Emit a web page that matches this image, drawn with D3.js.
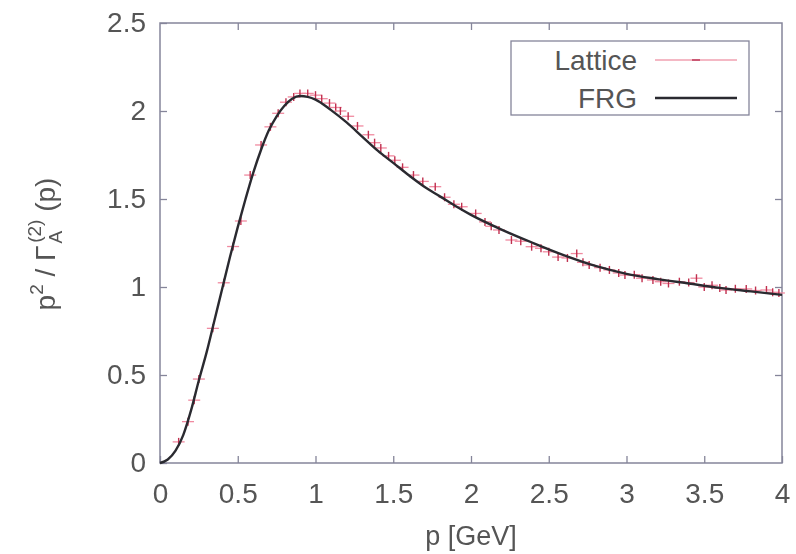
<!DOCTYPE html>
<html><head><meta charset="utf-8">
<script src="https://cdn.jsdelivr.net/npm/d3@7"></script>
<style>body{margin:0;background:#fff}svg{display:block;filter:blur(0.45px)}text{font-family:"Liberation Sans",Arial,sans-serif;fill:#555}</style>
</head><body><svg id="c" width="796" height="554"></svg>
<script>
const xTicks = [0,0.5,1,1.5,2,2.5,3,3.5,4];
const yTicks = [0,0.5,1,1.5,2,2.5];
const seriesNames = ["Lattice","FRG"];
const latticeP = [0.12,0.18,0.22,0.25,0.34,0.41,0.47,0.52,0.58,0.65,0.71,0.76,0.81,0.86,0.9,0.95,1.0,1.04,1.09,1.13,1.16,1.21,1.27,1.34,1.38,1.42,1.47,1.51,1.56,1.63,1.69,1.77,1.83,1.89,1.94,2.03,2.09,2.13,2.18,2.26,2.32,2.39,2.45,2.5,2.56,2.62,2.68,2.72,2.76,2.83,2.89,2.95,2.99,3.05,3.1,3.17,3.22,3.27,3.34,3.4,3.45,3.5,3.55,3.6,3.64,3.7,3.77,3.83,3.9,3.94,3.98];
const latticeV = [0.12,0.235,0.357,0.477,0.765,1.024,1.23,1.375,1.636,1.807,1.91,1.987,2.05,2.08,2.1,2.1,2.09,2.07,2.045,2.02,2.0,1.97,1.915,1.865,1.82,1.79,1.745,1.72,1.68,1.636,1.6,1.57,1.51,1.47,1.456,1.418,1.37,1.345,1.324,1.267,1.26,1.229,1.22,1.2,1.17,1.165,1.19,1.14,1.125,1.11,1.097,1.08,1.068,1.07,1.05,1.04,1.03,1.02,1.03,1.025,1.05,1.0,1.01,0.995,0.983,0.99,0.989,0.98,0.983,0.97,0.966];
const latticeErr = [0.01,0.01,0.01,0.012,0.012,0.015,0.015,0.015,0.018,0.018,0.018,0.02,0.02,0.02,0.02,0.02,0.02,0.02,0.02,0.02,0.02,0.018,0.018,0.018,0.018,0.018,0.016,0.016,0.016,0.016,0.015,0.015,0.015,0.015,0.014,0.014,0.014,0.014,0.013,0.013,0.013,0.013,0.012,0.012,0.012,0.012,0.012,0.012,0.012,0.011,0.011,0.011,0.011,0.011,0.011,0.011,0.01,0.01,0.01,0.01,0.01,0.01,0.01,0.01,0.01,0.01,0.01,0.01,0.01,0.01,0.01];
const frgP = [0,0.05,0.1,0.15,0.2,0.25,0.3,0.35,0.4,0.45,0.5,0.55,0.6,0.65,0.7,0.75,0.8,0.85,0.9,0.95,1.0,1.1,1.2,1.3,1.4,1.5,1.6,1.7,1.8,1.9,2.0,2.2,2.4,2.6,2.8,3.0,3.2,3.4,3.6,3.8,4.0];
const frgV = [0,0.02,0.07,0.16,0.3,0.47,0.63,0.81,0.99,1.17,1.34,1.5,1.65,1.78,1.89,1.97,2.03,2.07,2.085,2.08,2.065,2.005,1.935,1.855,1.775,1.705,1.635,1.57,1.515,1.46,1.41,1.325,1.25,1.18,1.12,1.075,1.045,1.02,0.995,0.975,0.955];

const svg = d3.select("#c");
const L=160, R=782, T=23, B=463;
const x = d3.scaleLinear().domain([0,4]).range([L,R]);
const y = d3.scaleLinear().domain([0,2.5]).range([B,T]);
const frameCol = "#85859a";

svg.append("rect").attr("x",L).attr("y",T).attr("width",R-L).attr("height",B-T)
  .attr("fill","none").attr("stroke",frameCol).attr("stroke-width",1.5);

const ax = svg.append("g").attr("transform",`translate(0,${B})`)
  .call(d3.axisBottom(x).tickValues(xTicks).tickFormat(d3.format("")).tickSizeInner(-7).tickSizeOuter(0).tickPadding(20));
const ay = svg.append("g").attr("transform",`translate(${L},0)`)
  .call(d3.axisLeft(y).tickValues(yTicks).tickFormat(d3.format("")).tickSizeInner(-7).tickSizeOuter(0).tickPadding(14));
const axT = svg.append("g").attr("transform",`translate(0,${T})`)
  .call(d3.axisTop(x).tickValues(xTicks.slice(1,-1)).tickFormat("").tickSizeInner(-7).tickSizeOuter(0));
const ayR = svg.append("g").attr("transform",`translate(${R},0)`)
  .call(d3.axisRight(y).tickValues(yTicks.slice(1,-1)).tickFormat("").tickSizeInner(-7).tickSizeOuter(0));
[ax,ay,axT,ayR].forEach(g=>{g.select(".domain").remove();g.selectAll("line").attr("stroke",frameCol).attr("stroke-width",1.3);
  g.selectAll("text").style("font-size","28px").attr("fill","#555");});
ax.selectAll("text").attr("dy","0.71em");

svg.append("text").attr("x",(L+R)/2).attr("y",545).attr("text-anchor","middle").style("font-size","27px").text("p [GeV]");
const yl = svg.append("text").attr("transform","translate(55,244) rotate(-90)").attr("text-anchor","middle").style("font-size","28px");
yl.append("tspan").text("p");
yl.append("tspan").attr("dy","-12").style("font-size","19px").text("2");
yl.append("tspan").attr("dy","12").text(" / Γ");
yl.append("tspan").attr("dy","7").attr("dx","2").style("font-size","19px").text("A");
yl.append("tspan").attr("dy","-21").attr("dx","-12").style("font-size","19px").text("(2)");
yl.append("tspan").attr("dy","14").text(" (p)");

const lat = latticeP.map((p,i)=>({p,v:latticeV[i],e:latticeErr[i]}));
const lg = svg.append("g");
lat.forEach(d=>{
  const cx=x(d.p), cy=y(d.v);
  const h=Math.max(4, Math.abs(y(d.v-d.e)-cy));
  lg.append("line").attr("x1",cx-6).attr("x2",cx+6).attr("y1",cy).attr("y2",cy).attr("stroke","#f08aa0").attr("stroke-width",1.3);
  lg.append("line").attr("x1",cx).attr("x2",cx).attr("y1",cy-h).attr("y2",cy+h).attr("stroke","#c0304f").attr("stroke-width",1.4);
});

const frg = frgP.map((p,i)=>({p,v:frgV[i]}));
svg.append("path").datum(frg).attr("fill","none").attr("stroke","#2a2a30").attr("stroke-width",2.4)
  .attr("d",d3.line().x(d=>x(d.p)).y(d=>y(d.v)).curve(d3.curveMonotoneX));

const lgd = svg.append("g");
lgd.append("rect").attr("x",511).attr("y",41).attr("width",238).attr("height",74).attr("fill","#fff").attr("stroke",frameCol).attr("stroke-width",1.3);
const rows=[{n:seriesNames[0],y:60},{n:seriesNames[1],y:98}];
rows.forEach((r,i)=>{
  lgd.append("text").attr("x",637).attr("y",r.y).attr("dy","0.36em").attr("text-anchor","end").style("font-size","28px").text(r.n);
  if(i===0){
    lgd.append("line").attr("x1",655).attr("x2",737).attr("y1",r.y).attr("y2",r.y).attr("stroke","#f0a0b0").attr("stroke-width",1.3);
    lgd.append("line").attr("x1",692).attr("x2",700).attr("y1",r.y).attr("y2",r.y).attr("stroke","#c04060").attr("stroke-width",1.6);
  } else {
    lgd.append("line").attr("x1",655).attr("x2",737).attr("y1",r.y).attr("y2",r.y).attr("stroke","#2a2a30").attr("stroke-width",2.4);
  }
});
</script></body></html>
